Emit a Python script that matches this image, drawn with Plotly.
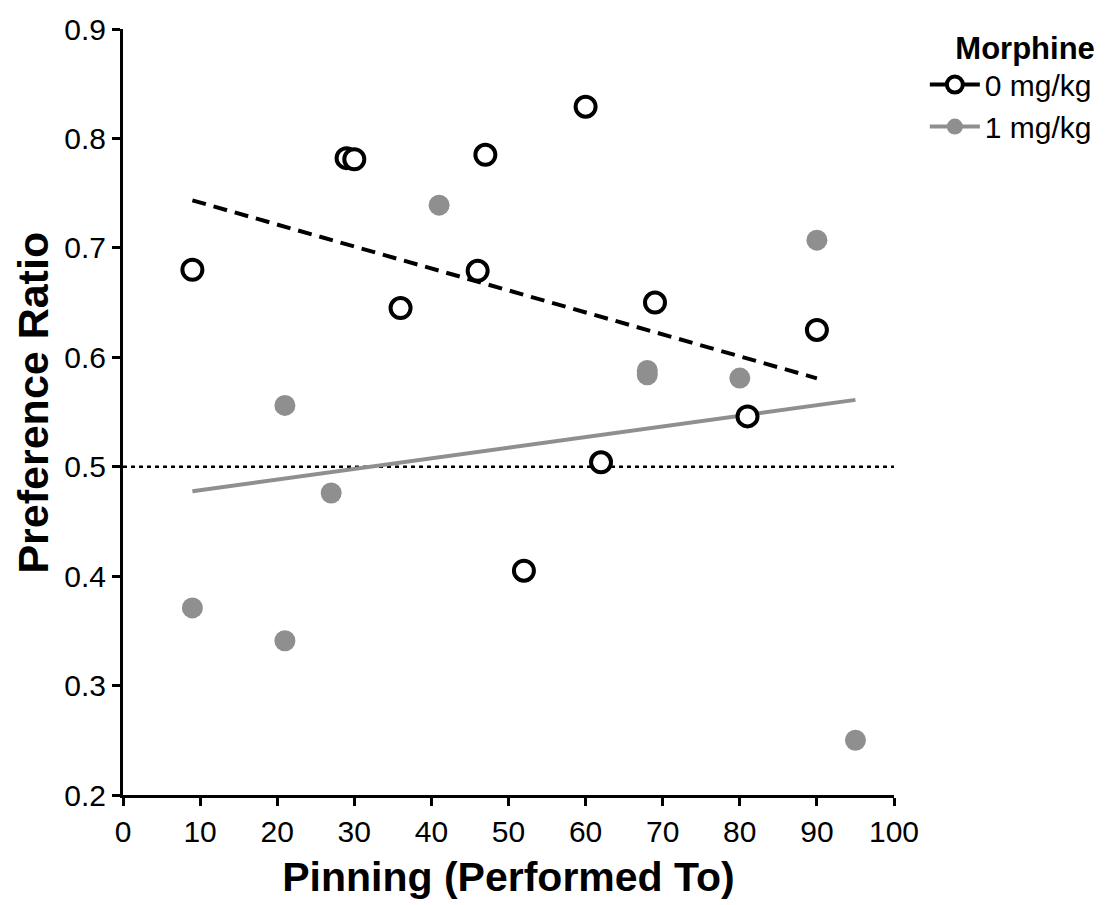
import numpy as np
import plotly.graph_objects as go

# 0 mg/kg (open black circles)
pin_0 = [9, 29, 30, 36, 46, 47, 60, 69, 90, 81, 62, 52]
pref_0 = [0.68, 0.782, 0.781, 0.645, 0.679, 0.785, 0.829, 0.65, 0.625, 0.546, 0.504, 0.405]

# 1 mg/kg (filled gray circles)
pin_1 = [41, 90, 68, 68, 80, 21, 27, 9, 21, 95]
pref_1 = [0.739, 0.707, 0.588, 0.584, 0.581, 0.556, 0.476, 0.371, 0.341, 0.25]

legend_labels = ["0 mg/kg", "1 mg/kg"]
chance_level = 0.5

GRAY = "#8f8f8f"
FONT = "Liberation Sans, Arial"

fig = go.Figure()


def fit_line(xs, ys):
    xs = np.array(xs, dtype=float)
    ys = np.array(ys, dtype=float)
    m, b = np.polyfit(xs, ys, 1)
    xl = np.array([xs.min(), xs.max()])
    return xl, m * xl + b


# chance line
fig.add_trace(go.Scatter(x=[0, 100], y=[chance_level, chance_level], mode="lines",
                         line=dict(color="black", width=2.5, dash="4px,4px"),
                         showlegend=False, hoverinfo="skip"))

x0l, y0l = fit_line(pin_0, pref_0)
fig.add_trace(go.Scatter(x=x0l, y=y0l, mode="lines",
                         line=dict(color="black", width=4, dash="14px,8px"),
                         showlegend=False, hoverinfo="skip"))
x1l, y1l = fit_line(pin_1, pref_1)
fig.add_trace(go.Scatter(x=x1l, y=y1l, mode="lines",
                         line=dict(color=GRAY, width=4),
                         showlegend=False, hoverinfo="skip"))

fig.add_trace(go.Scatter(x=pin_1, y=pref_1, mode="markers",
                         marker=dict(size=21, color=GRAY, line=dict(width=0)),
                         showlegend=False))
fig.add_trace(go.Scatter(x=pin_0, y=pref_0, mode="markers",
                         marker=dict(size=20, color="white", line=dict(color="black", width=4)),
                         showlegend=False))

# legend entries
fig.add_trace(go.Scatter(x=[None], y=[None], mode="lines+markers", name=legend_labels[0],
                         line=dict(color="black", width=4),
                         marker=dict(size=18, color="white", line=dict(color="black", width=4))))
fig.add_trace(go.Scatter(x=[None], y=[None], mode="lines+markers", name=legend_labels[1],
                         line=dict(color=GRAY, width=4),
                         marker=dict(size=20, color=GRAY)))

axis_common = dict(showline=True, linecolor="black", linewidth=3, ticks="outside",
                   ticklen=8, tickwidth=3, tickcolor="black", showgrid=False, zeroline=False,
                   tickfont=dict(family=FONT, size=30, color="black"))

fig.update_layout(
    width=1110, height=905,
    margin=dict(l=123, r=216, t=25, b=110),
    paper_bgcolor="white", plot_bgcolor="white",
    font=dict(family=FONT, color="black"),
    xaxis=dict(range=[0, 100], dtick=10, tick0=0,
               title=dict(text="<b>Pinning (Performed To)</b>",
                          font=dict(size=41, family=FONT), standoff=16),
               **axis_common),
    yaxis=dict(range=[0.2, 0.9], dtick=0.1, tick0=0.2, tickformat=".1f",
               **axis_common),
    legend=dict(x=1.04, y=1.014, xanchor="left", yanchor="top",
                title=dict(text="<b>Morphine</b>", side="top right",
                           font=dict(size=31, family=FONT)),
                font=dict(size=30, family=FONT),
                tracegroupgap=0, itemwidth=50, bgcolor="rgba(0,0,0,0)"),
    annotations=[dict(text="<b>Preference Ratio</b>", textangle=-90,
                      xref="paper", yref="paper", x=-0.117, y=0.512,
                      xanchor="center", yanchor="middle", showarrow=False,
                      font=dict(size=43, family=FONT, color="black"))],
)

fig.write_html("out.html")
